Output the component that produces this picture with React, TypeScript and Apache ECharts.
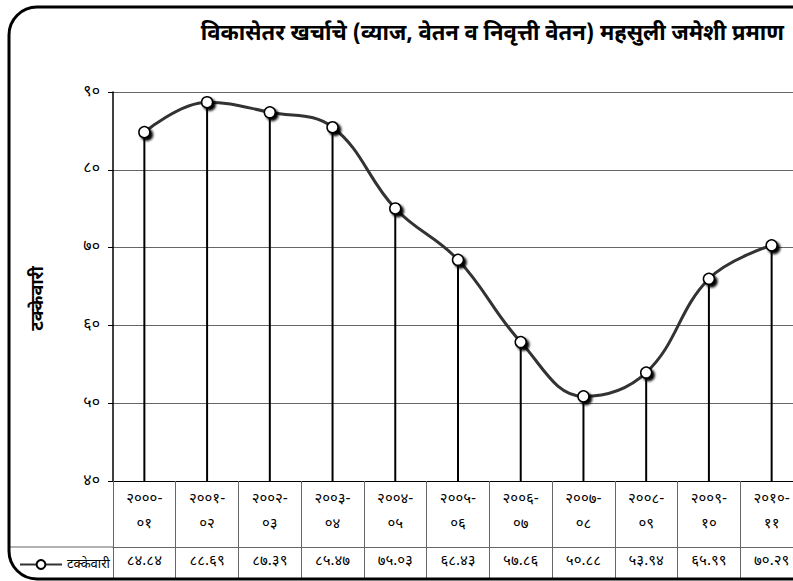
import React, { useEffect, useRef } from 'react';
import * as echarts from 'echarts';

const titleText = 'विकासेतर खर्चाचे (व्याज, वेतन व निवृत्ती वेतन) महसुली जमेशी प्रमाण';
const yAxisName = 'टक्केवारी';
const seriesName = 'टक्केवारी';
const categories = ['२०००-०१', '२००१-०२', '२००२-०३', '२००३-०४', '२००४-०५', '२००५-०६', '२००६-०७', '२००७-०८', '२००८-०९', '२००९-१०', '२०१०-११'];
const values = [84.84, 88.69, 87.39, 85.47, 75.03, 68.43, 57.86, 50.88, 53.94, 65.99, 70.29];
const yTickLabels = ['४०', '५०', '६०', '७०', '८०', '९०'];
const devDigits = ['०', '१', '२', '३', '४', '५', '६', '७', '८', '९'];

const toDev = (s: string) => s.replace(/\d/g, (d) => devDigits[Number(d)]);
const FONT = "'Noto Sans Devanagari', 'Noto Sans', 'DejaVu Sans', sans-serif";

export default function App() {
  const ref = useRef<HTMLDivElement>(null);
  useEffect(() => {
    if (!ref.current) return;
    const chart = echarts.init(ref.current, undefined, { renderer: 'svg' });
    chart.setOption({
      animation: false,
      backgroundColor: '#fff',
      textStyle: { fontFamily: FONT },
      title: {
        text: titleText,
        right: 4,
        top: 18,
        textStyle: { fontSize: 22, fontWeight: 'bold', color: '#000', fontFamily: FONT },
      },
      legend: {
        data: [seriesName],
        left: 14,
        top: 553,
        itemWidth: 42,
        itemHeight: 11,
        itemGap: 4,
        textStyle: { fontSize: 13, color: '#000', fontFamily: FONT },
      },
      grid: { left: 113, top: 92, width: 690, height: 389, containLabel: false, outerBoundsMode: 'none' },
      xAxis: [
        {
          type: 'category',
          data: categories,
          position: 'bottom',
          boundaryGap: true,
          axisLine: { show: true, lineStyle: { color: '#000', width: 1 } },
          axisTick: { show: true, interval: 0, length: 97, lineStyle: { color: '#666', width: 1 } },
          axisLabel: {
            interval: 0,
            formatter: (s: string) => s.replace('-', '-\n'),
            lineHeight: 25,
            fontSize: 15,
            color: '#000',
            margin: 6,
          },
          splitLine: { show: false },
        },
        {
          type: 'category',
          data: categories,
          position: 'bottom',
          offset: 66,
          axisLine: { show: true, lineStyle: { color: '#666', width: 1 } },
          axisTick: { show: false },
          axisLabel: {
            interval: 0,
            formatter: (_v: string, i: number) => toDev(values[i].toFixed(2)),
            fontSize: 15,
            color: '#000',
            margin: 7,
          },
        },
        {
          type: 'category',
          data: categories,
          position: 'bottom',
          offset: 97,
          axisLine: { show: true, lineStyle: { color: '#666', width: 1 } },
          axisTick: { show: false },
          axisLabel: { show: false },
        },
      ],
      yAxis: {
        type: 'value',
        min: 40,
        max: 90,
        interval: 10,
        name: yAxisName,
        nameLocation: 'middle',
        nameGap: 66,
        nameRotate: 90,
        nameTextStyle: { fontSize: 18, fontWeight: 'bold', color: '#000', fontFamily: FONT, padding: [0, 24, 0, 0] },
        axisLine: { show: true, lineStyle: { color: '#000', width: 1.5 } },
        axisTick: { show: true, length: 5, lineStyle: { color: '#000' } },
        axisLabel: {
          formatter: (_v: number, i: number) => yTickLabels[i],
          fontSize: 16,
          color: '#000',
          margin: 13,
        },
        splitLine: { show: true, lineStyle: { color: '#666', width: 1 } },
      },
      series: [
        {
          name: 'drop',
          type: 'bar',
          data: values,
          barWidth: 2,
          itemStyle: { color: '#000' },
          z: 1,
          silent: true,
        },
        {
          name: seriesName,
          type: 'line',
          data: values,
          smooth: 0.4,
          symbol: 'circle',
          symbolSize: 11,
          lineStyle: { color: '#333', width: 3 },
          itemStyle: {
            color: '#fff',
            borderColor: '#000',
            borderWidth: 1.5,
            shadowColor: '#000',
            shadowOffsetX: 2.5,
            shadowOffsetY: 2.5,
            shadowBlur: 2,
          },
          z: 3,
        },
      ],
      graphic: [
        {
          type: 'rect',
          shape: { x: 9, y: 7, width: 830, height: 572, r: 28 },
          style: { fill: 'none', stroke: '#000', lineWidth: 3 },
          z: 100,
          silent: true,
        },
        {
          type: 'line',
          shape: { x1: 9, y1: 547, x2: 113, y2: 547 },
          style: { stroke: '#666', lineWidth: 1 },
          silent: true,
        },
      ],
    });
    return () => chart.dispose();
  }, []);
  return <div ref={ref} style={{ position: 'fixed', left: 0, top: 0, width: 793, height: 581 }} />;
}
